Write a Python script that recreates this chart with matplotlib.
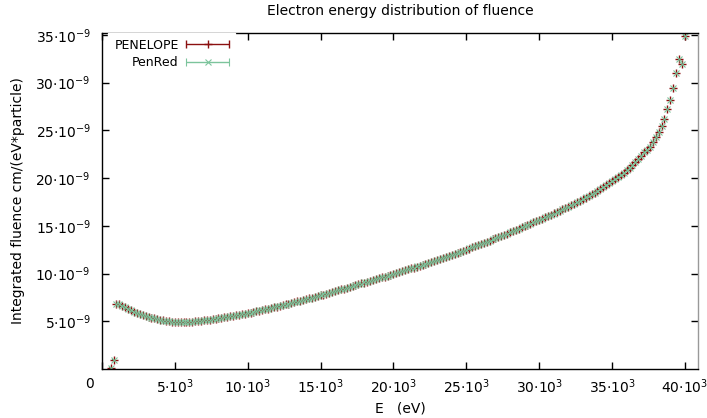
import numpy as np
import matplotlib.pyplot as plt
from matplotlib.ticker import FuncFormatter
from matplotlib.container import ErrorbarContainer
from matplotlib.legend_handler import HandlerErrorbar
from matplotlib.transforms import ScaledTranslation

# Energy bin centres (eV)
energy = [
    600, 800, 1000, 1200, 1400, 1600, 1800, 2000, 2200, 2400,
    2600, 2800, 3000, 3200, 3400, 3600, 3800, 4000, 4200, 4400,
    4600, 4800, 5000, 5200, 5400, 5600, 5800, 6000, 6200, 6400,
    6600, 6800, 7000, 7200, 7400, 7600, 7800, 8000, 8200, 8400,
    8600, 8800, 9000, 9200, 9400, 9600, 9800, 10000, 10200, 10400,
    10600, 10800, 11000, 11200, 11400, 11600, 11800, 12000, 12200, 12400,
    12600, 12800, 13000, 13200, 13400, 13600, 13800, 14000, 14200, 14400,
    14600, 14800, 15000, 15200, 15400, 15600, 15800, 16000, 16200, 16400,
    16600, 16800, 17000, 17200, 17400, 17600, 17800, 18000, 18200, 18400,
    18600, 18800, 19000, 19200, 19400, 19600, 19800, 20000, 20200, 20400,
    20600, 20800, 21000, 21200, 21400, 21600, 21800, 22000, 22200, 22400,
    22600, 22800, 23000, 23200, 23400, 23600, 23800, 24000, 24200, 24400,
    24600, 24800, 25000, 25200, 25400, 25600, 25800, 26000, 26200, 26400,
    26600, 26800, 27000, 27200, 27400, 27600, 27800, 28000, 28200, 28400,
    28600, 28800, 29000, 29200, 29400, 29600, 29800, 30000, 30200, 30400,
    30600, 30800, 31000, 31200, 31400, 31600, 31800, 32000, 32200, 32400,
    32600, 32800, 33000, 33200, 33400, 33600, 33800, 34000, 34200, 34400,
    34600, 34800, 35000, 35200, 35400, 35600, 35800, 36000, 36200, 36400,
    36600, 36800, 37000, 37200, 37400, 37600, 37800, 38000, 38200, 38400,
    38600, 38800, 39000, 39200, 39400, 39600, 39800, 40000,
]

# Integrated fluence, units of 1e-9 cm/(eV*particle)
penelope = [
    0.12, 0.95, 6.85, 6.80, 6.65, 6.48, 6.31, 6.16, 6.02, 5.89,
    5.77, 5.66, 5.56, 5.47, 5.38, 5.30, 5.22, 5.15, 5.09, 5.04,
    5.00, 4.96, 4.94, 4.92, 4.92, 4.92, 4.93, 4.95, 4.97, 5.00,
    5.03, 5.07, 5.11, 5.15, 5.19, 5.24, 5.28, 5.33, 5.38, 5.43,
    5.48, 5.53, 5.58, 5.64, 5.69, 5.75, 5.80, 5.86, 5.92, 5.99,
    6.06, 6.13, 6.20, 6.27, 6.34, 6.41, 6.48, 6.55, 6.63, 6.70,
    6.77, 6.85, 6.92, 7.00, 7.08, 7.16, 7.24, 7.32, 7.40, 7.48,
    7.56, 7.64, 7.72, 7.81, 7.90, 7.98, 8.07, 8.16, 8.25, 8.34,
    8.43, 8.52, 8.61, 8.70, 8.79, 8.88, 8.97, 9.06, 9.15, 9.24,
    9.33, 9.42, 9.51, 9.60, 9.69, 9.79, 9.88, 9.98, 10.07, 10.17,
    10.26, 10.36, 10.45, 10.55, 10.64, 10.74, 10.84, 10.94, 11.04, 11.14,
    11.24, 11.34, 11.44, 11.55, 11.65, 11.76, 11.86, 11.97, 12.08, 12.19,
    12.30, 12.41, 12.52, 12.63, 12.75, 12.86, 12.98, 13.10, 13.22, 13.34,
    13.46, 13.58, 13.70, 13.82, 13.95, 14.07, 14.20, 14.33, 14.46, 14.59,
    14.72, 14.84, 14.97, 15.10, 15.23, 15.36, 15.49, 15.62, 15.75, 15.88,
    16.02, 16.16, 16.30, 16.44, 16.58, 16.72, 16.87, 17.02, 17.17, 17.32,
    17.48, 17.64, 17.80, 17.97, 18.14, 18.31, 18.49, 18.67, 18.86, 19.05,
    19.25, 19.45, 19.66, 19.88, 20.10, 20.34, 20.58, 20.84, 21.11, 21.40,
    21.70, 22.02, 22.36, 22.70, 23.00, 23.30, 23.80, 24.30, 24.80, 25.50,
    26.20, 27.20, 28.20, 29.40, 31.00, 32.50, 32.00, 34.90,
]

penred = [
    0.10, 0.97, 6.83, 6.82, 6.63, 6.49, 6.30, 6.17, 6.01, 5.90,
    5.76, 5.67, 5.55, 5.48, 5.37, 5.31, 5.21, 5.16, 5.08, 5.05,
    4.99, 4.97, 4.93, 4.93, 4.91, 4.93, 4.92, 4.96, 4.96, 5.01,
    5.02, 5.08, 5.10, 5.16, 5.18, 5.25, 5.27, 5.34, 5.37, 5.44,
    5.47, 5.54, 5.57, 5.65, 5.68, 5.76, 5.79, 5.87, 5.91, 6.00,
    6.05, 6.14, 6.19, 6.28, 6.33, 6.42, 6.47, 6.56, 6.62, 6.71,
    6.76, 6.86, 6.91, 7.01, 7.07, 7.17, 7.23, 7.33, 7.39, 7.49,
    7.55, 7.65, 7.71, 7.82, 7.89, 7.99, 8.06, 8.17, 8.24, 8.35,
    8.42, 8.53, 8.60, 8.71, 8.78, 8.89, 8.96, 9.07, 9.14, 9.25,
    9.32, 9.43, 9.50, 9.61, 9.68, 9.80, 9.87, 9.99, 10.06, 10.18,
    10.25, 10.37, 10.44, 10.56, 10.63, 10.75, 10.83, 10.95, 11.03, 11.15,
    11.23, 11.35, 11.43, 11.56, 11.64, 11.77, 11.85, 11.98, 12.07, 12.20,
    12.29, 12.42, 12.51, 12.64, 12.74, 12.87, 12.97, 13.11, 13.21, 13.35,
    13.45, 13.59, 13.69, 13.83, 13.94, 14.08, 14.19, 14.34, 14.45, 14.60,
    14.71, 14.85, 14.96, 15.11, 15.22, 15.37, 15.48, 15.63, 15.74, 15.89,
    16.01, 16.17, 16.29, 16.45, 16.57, 16.73, 16.86, 17.03, 17.16, 17.33,
    17.47, 17.65, 17.79, 17.98, 18.13, 18.32, 18.48, 18.68, 18.85, 19.06,
    19.24, 19.46, 19.65, 19.89, 20.09, 20.35, 20.57, 20.85, 21.10, 21.41,
    21.69, 22.03, 22.35, 22.71, 22.99, 23.31, 23.79, 24.31, 24.79, 25.51,
    26.19, 27.21, 28.19, 29.41, 30.98, 32.52, 31.98, 34.92,
]

bin_halfwidth = 100  # eV

red = '#8b1010'
green = '#2f7f47'
green_light = '#7cc49c'

fig = plt.figure(figsize=(7.07, 4.18), dpi=100)
ax = fig.add_axes([0.1441, 0.117, 0.8432, 0.804])

E = np.array(energy)
ax.errorbar(E, np.array(penelope) * 1e-9, xerr=bin_halfwidth, fmt='+', color=red,
            ms=5.5, mew=1.0, elinewidth=1.0, capsize=0)
ax.errorbar(E, np.array(penred) * 1e-9, xerr=bin_halfwidth, fmt='x', color=green,
            mec=green_light, ms=4.5, mew=0.8, elinewidth=1.2, capsize=0)

# legend proxies (gnuplot-style sample: bar with end tics and the point)
p1 = ax.errorbar([np.nan], [np.nan], xerr=[1], fmt='+', color=red, ms=5.5,
                 mew=1.0, elinewidth=1.0, capsize=3)
p2 = ax.errorbar([np.nan], [np.nan], xerr=[1], fmt='x', color=green_light, ms=4.5,
                 mew=0.8, elinewidth=1.0, capsize=3)
leg = ax.legend([p1, p2], ['PENELOPE', 'PenRed'], loc='upper left',
                bbox_to_anchor=(0.0, 1.02), markerfirst=False, fontsize=9,
                handlelength=3.4, handletextpad=0.6, labelspacing=0.35,
                borderpad=0.5, frameon=True, fancybox=False, framealpha=1,
                handler_map={ErrorbarContainer: HandlerErrorbar(xerr_size=1.7)})
leg.get_frame().set_edgecolor('white')

ax.set_xlim(0, 40900)
ax.set_ylim(0, 35.2e-9)
ax.set_xticks(np.arange(0, 40001, 5000))
ax.set_yticks(np.arange(5, 36, 5) * 1e-9)


def xfmt(v, pos):
    if v == 0:
        return '0'
    return '%d·10$^{3}$' % round(v / 1000)


def yfmt(v, pos):
    return '%d·10$^{-9}$' % round(v * 1e9)


ax.xaxis.set_major_formatter(FuncFormatter(xfmt))
ax.yaxis.set_major_formatter(FuncFormatter(yfmt))
ax.tick_params(direction='in', top=True, right=True, length=5, width=1,
               labelsize=10, pad=6, colors='black')
ax.tick_params(axis='y', pad=8)
for s in ax.spines.values():
    s.set_linewidth(1.0)
ax.spines['right'].set_color('#999999')

# the "0" label sits a little left of the axis corner
fig.canvas.draw()
lab0 = ax.get_xticklabels()[0]
lab0.set_transform(lab0.get_transform() + ScaledTranslation(-0.12, 0, fig.dpi_scale_trans))

fig.text(0.566, 1 - 11 / 418, 'Electron energy distribution of fluence',
         ha='center', va='center', fontsize=10)
fig.text(0.566, 1 - 408 / 418, 'E   (eV)', ha='center', va='center', fontsize=10)
fig.text(18 / 707, 0.52, 'Integrated fluence cm/(eV*particle)', ha='center',
         va='center', rotation=90, fontsize=10)

fig.savefig('out.png', dpi=100)
